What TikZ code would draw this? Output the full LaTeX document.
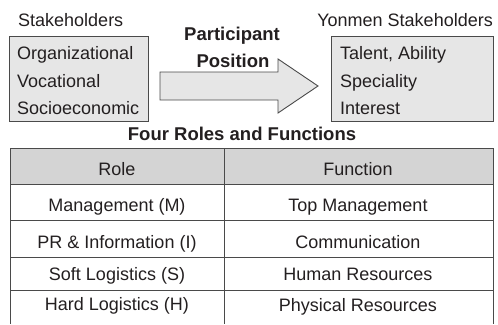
\documentclass[tikz,border=0pt]{standalone}
\usepackage{fontspec}
\setmainfont{Liberation Sans}
\usetikzlibrary{positioning}
\definecolor{boxgray}{HTML}{E6E6E6}
\definecolor{headgray}{HTML}{D4D4D4}
\definecolor{linegray}{HTML}{4A4A4A}
\definecolor{ink}{HTML}{231F20}

\begin{document}
\begin{tikzpicture}[x=1pt,y=-1pt,
    every node/.style={text=ink,font=\fontsize{18}{22}\selectfont,inner sep=0pt,anchor=base},
    box/.style={draw=linegray,fill=boxgray,line width=0.9pt},
    item/.style={anchor=base west},
    title/.style={font=\fontsize{18.5}{22}\selectfont\bfseries},
    grid/.style={draw=linegray,line width=0.9pt}]
   \useasboundingbox (0,0) rectangle (498,324);

   % Stakeholders
   \node[item] (lhead) at (18,26.7) {Stakeholders};
   \draw[box] (9,36) rectangle (148,121);
   \node[item] (org) at (17,59.3) {Organizational};
   \node[item] (voc) at (17,87.3) {Vocational};
   \node[item] (soc) at (17,114.3) {Socioeconomic};

   % Participant position
   \node[title] (part) at (232,40.5) {Participant};
   \node[title] (pos) at (233,67) {Position};
   \draw[box] (160,72) -- (278,72) -- (278,59) -- (318,86) -- (278,113)
        -- (278,100) -- (160,100) -- cycle;

   % Yonmen stakeholders
   \node[anchor=base east] (rhead) at (493,26.7) {Yonmen Stakeholders};
   \draw[box] (331,36) rectangle (493,121);
   \node[item] (tal) at (340,59.3) {Talent, Ability};
   \node[item] (spe) at (340,87.3) {Speciality};
   \node[item] (int) at (340,114.3) {Interest};

   % Four roles and functions
   \node[title] (roles) at (242,140) {Four Roles and Functions};
   \fill[headgray] (10,148) rectangle (493,184);
   \draw[grid] (10,148) -- (493,148);
   \draw[grid] (10,184) -- (493,184);
   \draw[grid] (10,220) -- (493,220);
   \draw[grid] (10,257) -- (493,257);
   \draw[grid] (10,290) -- (493,290);
   \draw[grid] (10,148) -- (10,324);
   \draw[grid] (224,148) -- (224,324);
   \draw[grid] (493,148) -- (493,324);

   \node (role) at (117,175) {Role};
   \node (func) at (358,175) {Function};
   \node (m) at (117,211) {Management (M)};
   \node (mf) at (358,211) {Top Management};
   \node (i) at (117,248) {PR \& Information (I)};
   \node (if) at (358,248) {Communication};
   \node (s) at (117,280) {Soft Logistics (S)};
   \node (sf) at (358,280) {Human Resources};
   \node (h) at (117,310) {Hard Logistics (H)};
   \node (hf) at (358,311) {Physical Resources};
\end{tikzpicture}
\end{document}
